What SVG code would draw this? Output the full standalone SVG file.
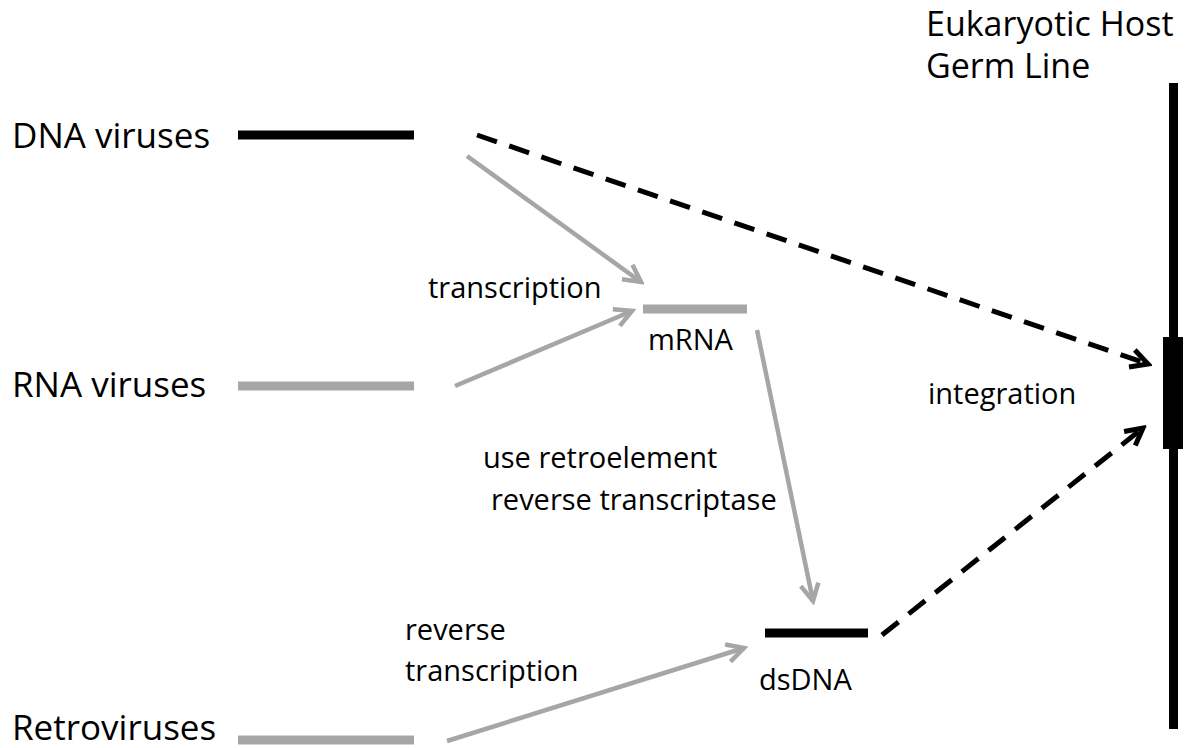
<svg xmlns="http://www.w3.org/2000/svg" width="1201" height="748" viewBox="0 0 1201 748">
<style>
text{font-family:"Open Sans","Liberation Sans",sans-serif;fill:#000}
.lg{font-size:35px}
.sm{font-size:29px}
.gbar{stroke:#a6a6a6;stroke-width:9}
.kbar{stroke:#000;stroke-width:9}
.garr{stroke:#a6a6a6;stroke-width:4.5;fill:none;marker-end:url(#ga)}
.karr{stroke:#000;stroke-width:5;fill:none;stroke-dasharray:21 13;marker-end:url(#ka)}
</style>
<defs>
<marker id="ga" markerUnits="userSpaceOnUse" viewBox="-20 -12 24 24" refX="0" refY="0" markerWidth="24" markerHeight="24" orient="auto">
<path d="M-17,-9 L0,0 L-17,9" fill="none" stroke="#a6a6a6" stroke-width="4.5" stroke-linejoin="miter"/>
</marker>
<marker id="ka" markerUnits="userSpaceOnUse" viewBox="-20 -12 24 24" refX="0" refY="0" markerWidth="24" markerHeight="24" orient="auto">
<path d="M-17,-9 L0,0 L-17,9" fill="none" stroke="#000" stroke-width="5" stroke-linejoin="miter"/>
</marker>
</defs>
<rect width="1201" height="748" fill="#fff"/>
<g id="host">
<text class="lg" x="926" y="36" style="font-size:34px">Eukaryotic Host</text>
<text class="lg" x="926" y="78" style="font-size:34px">Germ Line</text>
<line x1="1173.5" y1="83" x2="1173.5" y2="729" stroke="#000" stroke-width="9"/>
<rect x="1163" y="337" width="20" height="112" fill="#000"/>
</g>
<g id="dna-viruses">
<text class="lg" x="12" y="148">DNA viruses</text>
<line class="kbar" x1="238" y1="135" x2="414" y2="135"/>
</g>
<g id="rna-viruses">
<text class="lg" x="12" y="397">RNA viruses</text>
<line class="gbar" x1="238" y1="386" x2="414" y2="386"/>
</g>
<g id="retroviruses">
<text class="lg" x="12" y="740">Retroviruses</text>
<line class="gbar" x1="238" y1="740" x2="414" y2="740"/>
</g>
<g id="mrna">
<line class="gbar" x1="643" y1="309" x2="747" y2="309"/>
<text class="sm" x="648" y="350">mRNA</text>
</g>
<g id="dsdna">
<line class="kbar" x1="765" y1="633" x2="868" y2="633"/>
<text class="sm" x="759" y="690">dsDNA</text>
</g>
<g id="connectors">
<line class="garr" x1="467" y1="156" x2="641" y2="282"/>
<line class="garr" x1="455" y1="386" x2="632" y2="311"/>
<line class="garr" x1="757" y1="330" x2="813" y2="601"/>
<line class="garr" x1="447" y1="741" x2="744" y2="648"/>
<line class="karr" x1="477" y1="135" x2="1148" y2="364"/>
<line class="karr" x1="882" y1="635" x2="1143" y2="428"/>
</g>
<g id="labels">
<text class="sm" x="428" y="298">transcription</text>
<text class="sm" x="483" y="468">use retroelement</text>
<text class="sm" x="491" y="510">reverse transcriptase</text>
<text class="sm" x="405" y="640">reverse</text>
<text class="sm" x="405" y="681">transcription</text>
<text class="sm" x="928" y="404">integration</text>
</g>
</svg>
